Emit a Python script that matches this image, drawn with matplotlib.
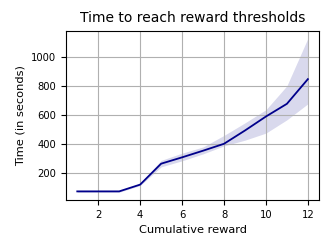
import matplotlib
matplotlib.use('Agg')
import matplotlib.pyplot as plt

rewards = [1, 2, 3, 4, 5, 6, 7, 8, 9, 10, 11, 12]
time_mean = [70, 70, 70, 117, 262, 306, 352, 400, 492, 589, 677, 848]
time_low = [64, 64, 64, 110, 240, 282, 330, 385, 425, 474, 566, 677]
time_high = [76, 76, 76, 125, 285, 335, 378, 458, 545, 636, 802, 1131]


def plot_thresholds(out_file):
    fig, ax = plt.subplots(figsize=(3.32, 2.49), dpi=100)
    ax.plot(rewards, time_mean, color='darkblue', lw=1.3)
    ax.fill_between(rewards, time_low, time_high, color='darkblue', alpha=0.15, lw=0)
    ax.set_title('Time to reach reward thresholds', fontsize=10)
    ax.set_xlabel('Cumulative reward', fontsize=8.2)
    ax.set_ylabel('Time (in seconds)', fontsize=8.2)
    ax.set_xticks([2, 4, 6, 8, 10, 12])
    ax.set_yticks([200, 400, 600, 800, 1000])
    ax.tick_params(labelsize=7.2)
    ax.grid(True)
    fig.subplots_adjust(left=0.198, right=0.962, top=0.877, bottom=0.197)
    fig.savefig(out_file)


if __name__ == '__main__':
    plot_thresholds('out.png')
